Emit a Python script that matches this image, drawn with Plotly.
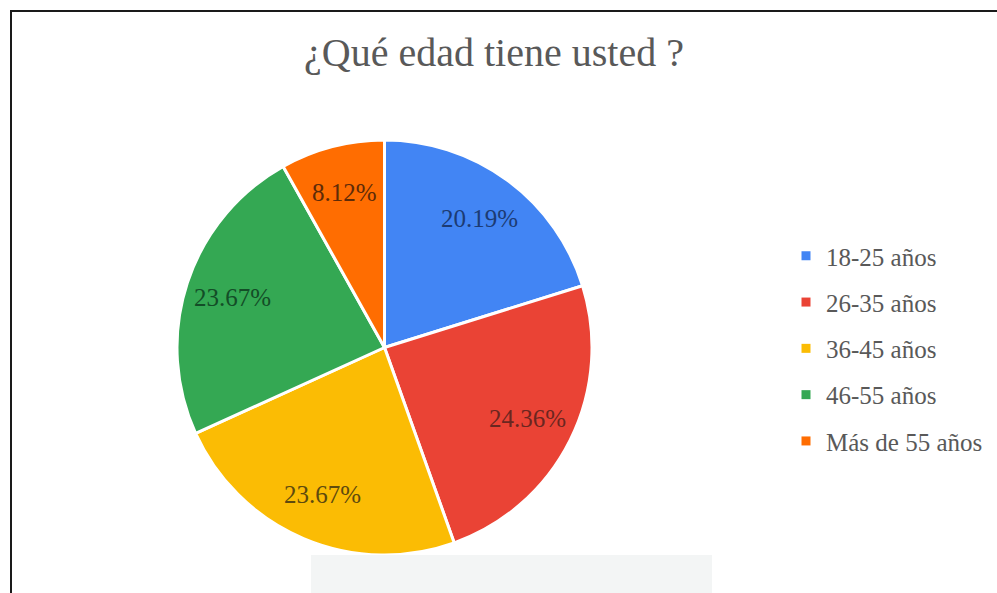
import math
import plotly.graph_objects as go

# Age groups and their share of respondents (%)
categories = ["18-25 años", "26-35 años", "36-45 años", "46-55 años", "Más de 55 años"]
shares = [20.19, 24.36, 23.67, 23.67, 8.12]

slice_colors = ["#4285F4", "#EA4335", "#FBBC04", "#34A853", "#FF6D01"]
label_colors = ["#1c3b73", "#6a2620", "#5e4a0e", "#134d27", "#5e2b08"]

W, H = 997, 593
SERIF = "Liberation Serif, Times New Roman, serif"

# pie placement (pixels) and where the value labels sit along each slice bisector
PIE_X0, PIE_X1, PIE_TOP, PIE_BOTTOM = 177, 592, 140, 555
LABEL_RADIUS = 0.77

fig = go.Figure()

fig.add_trace(go.Pie(
    labels=categories,
    values=shares,
    sort=False,
    direction="clockwise",
    rotation=0,
    marker=dict(colors=slice_colors, line=dict(color="white", width=3)),
    textinfo="none",
    hoverinfo="label+percent",
    showlegend=False,
    domain=dict(x=[PIE_X0 / W, PIE_X1 / W], y=[1 - PIE_BOTTOM / H, 1 - PIE_TOP / H]),
))

# value labels placed on each slice's bisector
cx = (PIE_X0 + PIE_X1) / 2
cy = (PIE_TOP + PIE_BOTTOM) / 2
radius = min(PIE_X1 - PIE_X0, PIE_BOTTOM - PIE_TOP) / 2
total = sum(shares)
annotations = []
cum = 0.0
for v, col in zip(shares, label_colors):
    theta = math.radians((cum + v / 2) / total * 360)
    cum += v
    px = cx + LABEL_RADIUS * radius * math.sin(theta)
    py = cy - LABEL_RADIUS * radius * math.cos(theta)
    annotations.append(dict(
        x=px / W, y=1 - py / H, xref="paper", yref="paper",
        text=f"{v:.2f}%", showarrow=False,
        xanchor="center", yanchor="middle",
        font=dict(family=SERIF, size=25, color=col),
    ))

# Legend entries: one square swatch per age group
for i, (name, col) in enumerate(zip(categories, slice_colors)):
    fig.add_trace(go.Scatter(
        x=[None], y=[None], mode="markers", name=name,
        marker=dict(symbol="square", size=9, color=col),
        legendgroup=f"g{i}", showlegend=True, hoverinfo="skip",
    ))

fig.update_layout(
    width=W, height=H,
    margin=dict(l=0, r=0, t=0, b=0),
    paper_bgcolor="white",
    plot_bgcolor="white",
    xaxis=dict(visible=False),
    yaxis=dict(visible=False),
    title=dict(
        text="¿Qué edad tiene usted ?",
        font=dict(family=SERIF, size=40, color="#595959"),
        x=494 / W, xanchor="center",
        y=1 - 52 / H, yanchor="middle",
        xref="paper", yref="paper",
    ),
    legend=dict(
        x=786 / W, xanchor="left",
        y=1 - 348.5 / H, yanchor="middle",
        font=dict(family=SERIF, size=25, color="#595959"),
        tracegroupgap=10.8,
        bgcolor="rgba(0,0,0,0)",
    ),
    annotations=annotations,
    shapes=[
        # frame around the chart area
        dict(type="rect", xref="paper", yref="paper",
             x0=11 / W, x1=1.05, y0=-0.05, y1=1 - 11 / H,
             line=dict(color="#1a1a1a", width=2), fillcolor="rgba(0,0,0,0)",
             layer="above"),
        # pale band along the bottom edge
        dict(type="rect", xref="paper", yref="paper",
             x0=311 / W, x1=712 / W, y0=0, y1=1 - 555 / H,
             line=dict(width=0), fillcolor="#f3f5f5", layer="above"),
    ],
)

fig.write_html("out.html")
